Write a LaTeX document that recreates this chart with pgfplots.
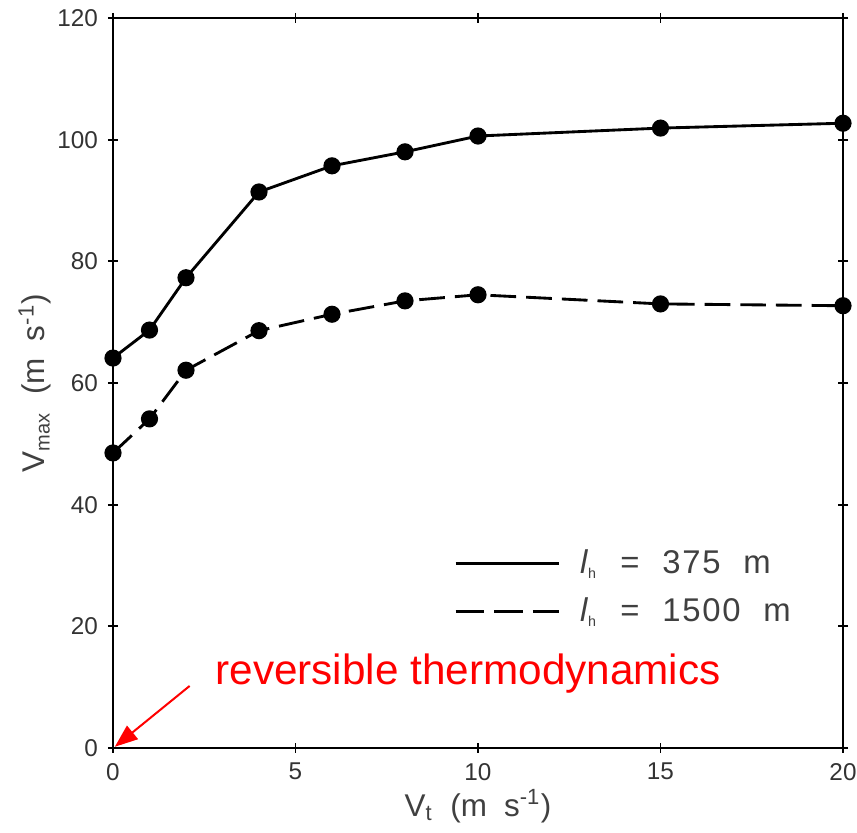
\documentclass[border=0pt]{standalone}
\usepackage{pgfplots}
\pgfplotsset{compat=1.18}
\usepackage{fontspec}
\setmainfont{Liberation Sans}
\usetikzlibrary{arrows.meta}
\begin{document}
\begin{tikzpicture}
\begin{axis}[
  name=ax,
  scale only axis,
  width=255.5pt, height=255.5pt,
  xmin=0, xmax=20, ymin=0, ymax=120,
  xtick={0,5,10,15,20}, ytick={0,20,40,60,80,100,120},
  tick align=center,
  major tick length=3.5pt,
  tick style={black, line width=0.6pt},
  axis line style={line width=0.8pt},
  /pgf/number format/assume math mode=true,
  ticklabel style={font=\fontsize{8.5}{10}\selectfont, text=black!80},
  xlabel={V\textsubscript{t}\hspace{6pt}(m\hspace{6pt}s\textsuperscript{-1})},
  ylabel={V\textsubscript{\scriptsize max}\hspace{6pt}(m\hspace{6pt}s\textsuperscript{-1})},
  label style={font=\fontsize{11}{13}\selectfont, text=black!75},
  xlabel style={at={(axis description cs:0.5,0)}, anchor=north, yshift=-11pt},
  ylabel style={at={(axis description cs:0,0.5)}, anchor=south, yshift=18pt},
  legend style={draw=none, fill=none, at={(axis description cs:0.455,0.288)}, anchor=north west,
    font=\fontsize{11.5}{13}\selectfont, text=black!75, row sep=3pt},
  legend cell align=left,
  legend image code/.code={\draw[#1] (0pt,0pt) -- (36pt,0pt);},
  clip=false,
]
\addlegendimage{black, line width=1pt}
\addlegendentry{\hspace{5pt}\textit{l}\textsubscript{\tiny h}\hspace{8pt}=\hspace{8pt}3\hspace{0.6pt}7\hspace{0.6pt}5\hspace{8pt}m}
\addlegendimage{black, line width=1pt, dash pattern=on 10pt off 3.5pt}
\addlegendentry{\hspace{5pt}\textit{l}\textsubscript{\tiny h}\hspace{8pt}=\hspace{8pt}1\hspace{0.6pt}5\hspace{0.6pt}0\hspace{0.6pt}0\hspace{8pt}m}
\addplot[black, line width=1pt, mark=*, mark size=2.5pt, forget plot] coordinates {
  (0,64.1) (1,68.7) (2,77.3) (4,91.4) (6,95.7) (8,98.0) (10,100.6) (15,101.9) (20,102.7)};
\addplot[black, line width=1pt, dash pattern=on 9pt off 3.5pt, mark=*, mark size=2.5pt,
  mark options={solid}, forget plot] coordinates {
  (0,48.5) (1,54.1) (2,62.1) (4,68.6) (6,71.3) (8,73.5) (10,74.5) (15,73.0) (20,72.7)};
\draw[red, line width=0.7pt, -{Triangle[length=8pt,width=6pt]}] (axis cs:2.1,10.2) -- (axis cs:0.05,0.2);
\node[red, font=\fontsize{14.8}{18}\selectfont] at (axis cs:9.73,12.3) {reversible thermodynamics};
\end{axis}
\pgfresetboundingbox
\path (ax.south west) ++(-39.55pt,-29.75pt) coordinate (bl);
\path (ax.north east) ++(4.9pt,6.3pt) coordinate (tr);
\path[use as bounding box] (bl) rectangle (tr);
\end{tikzpicture}
\end{document}
